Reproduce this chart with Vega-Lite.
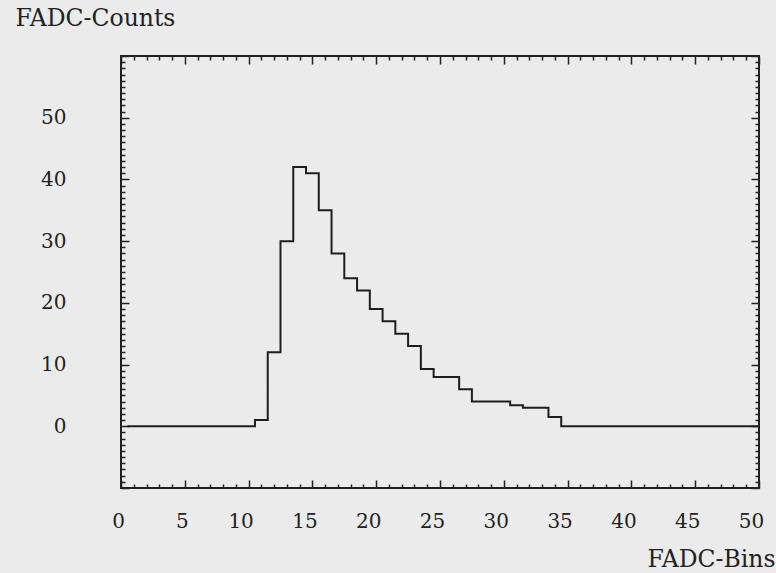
{
  "$schema": "https://vega.github.io/schema/vega-lite/v6.json",
  "width": 638,
  "height": 432,
  "autosize": {"type": "none"},
  "padding": {"left": 121, "top": 56, "right": 17, "bottom": 85},
  "background": "#ebebeb",
  "config": {"view": {"stroke": "#222222", "strokeWidth": 2}, "font": "DejaVu Serif"},
  "data": {"values": [
    {"edge": 0.5, "counts": 0}, {"edge": 1.5, "counts": 0}, {"edge": 2.5, "counts": 0}, {"edge": 3.5, "counts": 0},
    {"edge": 4.5, "counts": 0}, {"edge": 5.5, "counts": 0}, {"edge": 6.5, "counts": 0}, {"edge": 7.5, "counts": 0},
    {"edge": 8.5, "counts": 0}, {"edge": 9.5, "counts": 0}, {"edge": 10.5, "counts": 1}, {"edge": 11.5, "counts": 12},
    {"edge": 12.5, "counts": 30}, {"edge": 13.5, "counts": 42}, {"edge": 14.5, "counts": 41}, {"edge": 15.5, "counts": 35},
    {"edge": 16.5, "counts": 28}, {"edge": 17.5, "counts": 24}, {"edge": 18.5, "counts": 22}, {"edge": 19.5, "counts": 19},
    {"edge": 20.5, "counts": 17}, {"edge": 21.5, "counts": 15}, {"edge": 22.5, "counts": 13}, {"edge": 23.5, "counts": 9.3},
    {"edge": 24.5, "counts": 8}, {"edge": 25.5, "counts": 8}, {"edge": 26.5, "counts": 6}, {"edge": 27.5, "counts": 4},
    {"edge": 28.5, "counts": 4}, {"edge": 29.5, "counts": 4}, {"edge": 30.5, "counts": 3.4}, {"edge": 31.5, "counts": 3},
    {"edge": 32.5, "counts": 3}, {"edge": 33.5, "counts": 1.5}, {"edge": 34.5, "counts": 0}, {"edge": 35.5, "counts": 0},
    {"edge": 36.5, "counts": 0}, {"edge": 37.5, "counts": 0}, {"edge": 38.5, "counts": 0}, {"edge": 39.5, "counts": 0},
    {"edge": 40.5, "counts": 0}, {"edge": 41.5, "counts": 0}, {"edge": 42.5, "counts": 0}, {"edge": 43.5, "counts": 0},
    {"edge": 44.5, "counts": 0}, {"edge": 45.5, "counts": 0}, {"edge": 46.5, "counts": 0}, {"edge": 47.5, "counts": 0},
    {"edge": 48.5, "counts": 0}, {"edge": 49.5, "counts": 0}, {"edge": 50.5, "counts": 0}
  ]},
  "layer": [
    {
      "mark": {"type": "line", "interpolate": "step-after", "color": "#1e1e1e", "strokeWidth": 2, "clip": true},
      "encoding": {
        "x": {
          "field": "edge", "type": "quantitative",
          "scale": {"domain": [0, 50], "nice": false, "zero": false},
          "axis": {
            "orient": "bottom",
            "values": [0,1,2,3,4,5,6,7,8,9,10,11,12,13,14,15,16,17,18,19,20,21,22,23,24,25,26,27,28,29,30,31,32,33,34,35,36,37,38,39,40,41,42,43,44,45,46,47,48,49,50],
            "domain": false, "grid": false,
            "tickColor": "#222222", "tickWidth": 1.5,
            "tickSize": {"condition": {"test": "datum.value % 5 === 0", "value": -8}, "value": -4},
            "labelExpr": "datum.value % 5 === 0 ? datum.label : ''",
            "labelFont": "DejaVu Serif", "labelFontSize": 20, "labelColor": "#222222",
            "labelPadding": 41, "labelBaseline": "middle", "labelAlign": "center",
            "labelOffset": {"condition": {"test": "datum.value < 10", "value": -3}, "value": -8},
            "labelOverlap": false, "labelFlush": false,
            "title": "FADC-Bins", "titleFont": "DejaVu Serif", "titleFontSize": 23.5, "titleFontWeight": "normal",
            "titleColor": "#222222", "titleAlign": "right", "titleBaseline": "alphabetic", "titleX": 654, "titleY": 78
          }
        },
        "y": {
          "field": "counts", "type": "quantitative",
          "scale": {"domain": [-10, 60], "nice": false, "zero": false},
          "axis": {
            "orient": "left",
            "values": [-10,-9,-8,-7,-6,-5,-4,-3,-2,-1,0,1,2,3,4,5,6,7,8,9,10,11,12,13,14,15,16,17,18,19,20,21,22,23,24,25,26,27,28,29,30,31,32,33,34,35,36,37,38,39,40,41,42,43,44,45,46,47,48,49,50,51,52,53,54,55,56,57,58,59,60],
            "domain": false, "grid": false,
            "tickColor": "#222222", "tickWidth": 1.5,
            "tickSize": {"condition": {"test": "datum.value % 10 === 0", "value": -8}, "value": -4},
            "labelExpr": "(datum.value % 10 === 0 && datum.value >= 0 && datum.value <= 50) ? datum.label : ''",
            "labelFont": "DejaVu Serif", "labelFontSize": 20, "labelColor": "#222222",
            "labelPadding": 63, "labelAlign": "right", "labelBaseline": "middle",
            "labelOverlap": false, "labelFlush": false,
            "title": "FADC-Counts", "titleFont": "DejaVu Serif", "titleFontSize": 23.5, "titleFontWeight": "normal",
            "titleColor": "#222222", "titleAngle": 0, "titleAlign": "left", "titleBaseline": "middle", "titleX": -106, "titleY": -38
          }
        }
      }
    },
    {
      "mark": {"type": "line", "interpolate": "step-after", "strokeOpacity": 0, "clip": true},
      "encoding": {
        "x": {
          "field": "edge", "type": "quantitative",
          "scale": {"domain": [0, 50], "nice": false, "zero": false},
          "axis": {
            "orient": "top",
            "values": [0,1,2,3,4,5,6,7,8,9,10,11,12,13,14,15,16,17,18,19,20,21,22,23,24,25,26,27,28,29,30,31,32,33,34,35,36,37,38,39,40,41,42,43,44,45,46,47,48,49,50],
            "domain": false, "grid": false, "labels": false, "title": null,
            "tickColor": "#222222", "tickWidth": 1.5,
            "tickSize": {"condition": {"test": "datum.value % 5 === 0", "value": -8}, "value": -4}
          }
        },
        "y": {
          "field": "counts", "type": "quantitative",
          "scale": {"domain": [-10, 60], "nice": false, "zero": false},
          "axis": {
            "orient": "right",
            "values": [-10,-9,-8,-7,-6,-5,-4,-3,-2,-1,0,1,2,3,4,5,6,7,8,9,10,11,12,13,14,15,16,17,18,19,20,21,22,23,24,25,26,27,28,29,30,31,32,33,34,35,36,37,38,39,40,41,42,43,44,45,46,47,48,49,50,51,52,53,54,55,56,57,58,59,60],
            "domain": false, "grid": false, "labels": false, "title": null,
            "tickColor": "#222222", "tickWidth": 1.5,
            "tickSize": {"condition": {"test": "datum.value % 10 === 0", "value": -8}, "value": -4}
          }
        }
      }
    }
  ],
  "resolve": {"axis": {"x": "independent", "y": "independent"}}
}
